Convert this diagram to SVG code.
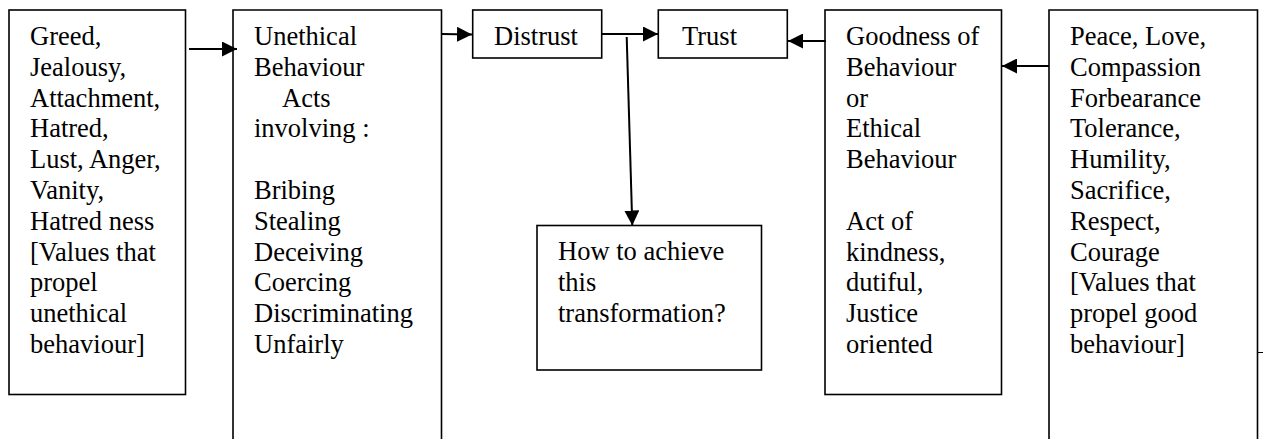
<svg xmlns="http://www.w3.org/2000/svg" width="1263" height="439" viewBox="0 0 1263 439">
<style>
.box{fill:#fff;stroke:#000;stroke-width:1.6}
.t{font-family:"Liberation Serif","Times New Roman",serif;font-size:26.5px;fill:#000}
.c{stroke:#000;stroke-width:2;fill:none}
</style>
<defs>
<marker id="ah" markerUnits="userSpaceOnUse" markerWidth="15" markerHeight="15" viewBox="0 0 15 15" refX="15" refY="7.5" orient="auto">
<path d="M0,0 L15,7.5 L0,15 Z" fill="#000"/>
</marker>
</defs>
<rect width="1263" height="439" fill="#fff"/>
<g id="n-vices">
<rect class="box" x="9" y="10" width="176.5" height="384.5"/>
<text class="t"><tspan x="30" y="45">Greed,</tspan><tspan x="30" y="76">Jealousy,</tspan><tspan x="30" y="107">Attachment,</tspan><tspan x="30" y="137">Hatred,</tspan><tspan x="30" y="168">Lust, Anger,</tspan><tspan x="30" y="199">Vanity,</tspan><tspan x="30" y="230">Hatred ness</tspan><tspan x="30" y="261">[Values that</tspan><tspan x="30" y="291">propel</tspan><tspan x="30" y="322">unethical</tspan><tspan x="30" y="353">behaviour]</tspan></text>
</g>
<g id="n-unethical">
<path class="box" d="M233,445 V10 H441.5 V445"/>
<text class="t"><tspan x="254" y="45">Unethical</tspan><tspan x="254" y="76">Behaviour</tspan><tspan x="282" y="107">Acts</tspan><tspan x="254" y="137">involving :</tspan><tspan x="254" y="199">Bribing</tspan><tspan x="254" y="230">Stealing</tspan><tspan x="254" y="261">Deceiving</tspan><tspan x="254" y="291">Coercing</tspan><tspan x="254" y="322">Discriminating</tspan><tspan x="254" y="353">Unfairly</tspan></text>
</g>
<g id="n-distrust">
<rect class="box" x="472.7" y="10" width="129" height="48"/>
<text class="t" x="494" y="45">Distrust</text>
</g>
<g id="n-trust">
<rect class="box" x="658.3" y="10" width="129" height="48"/>
<text class="t" x="682" y="45">Trust</text>
</g>
<g id="n-how">
<rect class="box" x="537" y="225.5" width="224.5" height="144.5"/>
<text class="t"><tspan x="558" y="260">How to achieve</tspan><tspan x="558" y="291">this</tspan><tspan x="558" y="322">transformation?</tspan></text>
</g>
<g id="n-goodness">
<rect class="box" x="825" y="10" width="176.5" height="384.5"/>
<text class="t"><tspan x="846" y="45">Goodness of</tspan><tspan x="846" y="76">Behaviour</tspan><tspan x="846" y="107">or</tspan><tspan x="846" y="137">Ethical</tspan><tspan x="846" y="168">Behaviour</tspan><tspan x="846" y="230">Act of</tspan><tspan x="846" y="261">kindness,</tspan><tspan x="846" y="291">dutiful,</tspan><tspan x="846" y="322">Justice</tspan><tspan x="846" y="353">oriented</tspan></text>
</g>
<g id="n-virtues">
<path class="box" d="M1049,445 V10 H1257.5 V445"/>
<text class="t"><tspan x="1070" y="45">Peace, Love,</tspan><tspan x="1070" y="76">Compassion</tspan><tspan x="1070" y="107">Forbearance</tspan><tspan x="1070" y="137">Tolerance,</tspan><tspan x="1070" y="168">Humility,</tspan><tspan x="1070" y="199">Sacrifice,</tspan><tspan x="1070" y="230">Respect,</tspan><tspan x="1070" y="261">Courage</tspan><tspan x="1070" y="291">[Values that</tspan><tspan x="1070" y="322">propel good</tspan><tspan x="1070" y="353">behaviour]</tspan></text>
</g>
<g id="connectors">
<line class="c" x1="189" y1="49" x2="237" y2="49" marker-end="url(#ah)"/>
<line class="c" x1="442" y1="34" x2="472" y2="34.5" marker-end="url(#ah)"/>
<line class="c" x1="602" y1="34" x2="658" y2="34" marker-end="url(#ah)"/>
<line class="c" x1="626.7" y1="37" x2="632.3" y2="225.5" marker-end="url(#ah)"/>
<line class="c" x1="826" y1="41" x2="788" y2="41" marker-end="url(#ah)"/>
<line class="c" x1="1049" y1="66" x2="1002" y2="66" marker-end="url(#ah)"/>
<line stroke="#000" stroke-width="1" x1="1258" y1="352.5" x2="1263" y2="352.5"/>
</g>
</svg>
